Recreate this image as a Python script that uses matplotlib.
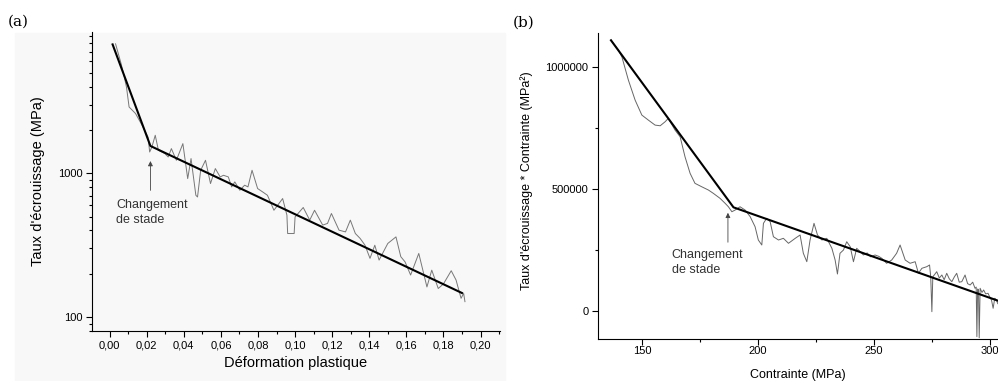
import numpy as np
import matplotlib.pyplot as plt
from matplotlib.patches import Rectangle
from matplotlib.ticker import MultipleLocator, LogLocator, NullFormatter, FuncFormatter

plt.rcParams['font.family'] = ['Liberation Sans', 'DejaVu Sans']

## (a) taux d'ecrouissage vs deformation plastique (log scale)
eps = [0.0032, 0.0062, 0.0079, 0.0091, 0.0105, 0.0140, 0.0175, 0.0207, 0.0216, 0.0228,
       0.0246, 0.0263, 0.0298, 0.0316, 0.0333, 0.0360, 0.0395, 0.0421, 0.0439, 0.0465,
       0.0474, 0.0491, 0.0517, 0.0544, 0.0570, 0.0596, 0.0614, 0.0640, 0.0658, 0.0675,
       0.0702, 0.0728, 0.0746, 0.0768, 0.0798, 0.0825, 0.0851, 0.0886, 0.0933, 0.0956,
       0.0960, 0.0995, 0.1000, 0.1044, 0.1079, 0.1105, 0.1149, 0.1175, 0.1196, 0.1237,
       0.1272, 0.1298, 0.1325, 0.1351, 0.1377, 0.1404, 0.1430, 0.1453, 0.1500, 0.1544,
       0.1570, 0.1593, 0.1623, 0.1667, 0.1711, 0.1737, 0.1772, 0.1800, 0.1842, 0.1868,
       0.1895, 0.1909, 0.1916]
theta = [7940, 5780, 4670, 3970, 2890, 2600, 2155, 1786, 1406, 1524,
         1837, 1445, 1370, 1298, 1484, 1231, 1607, 918, 1265, 703,
         684, 1049, 1231, 848, 1078, 943, 968, 943, 804, 871,
         762, 826, 804, 1049, 783, 742, 703, 553, 667, 511,
         381, 381, 497, 578, 472, 553, 436, 448, 525, 402,
         391, 472, 381, 352, 316, 256, 316, 249, 325, 361,
         263, 242, 196, 277, 162, 212, 158, 170, 210, 181,
         135, 146, 128]
fit_a_x = [0.0016, 0.022, 0.190]
fit_a_y = [7870, 1548, 147]

## (b) taux * contrainte vs contrainte
sig = [136.6, 139.8, 141.3, 144.1, 147.0, 149.9, 152.7, 155.6, 157.8, 159.9,
       161.3, 164.2, 166.4, 168.5, 170.7, 172.8, 175.7, 178.6, 180.7, 183.6,
       185.8, 187.2, 188.7, 190.1, 192.2, 194.4, 196.6, 198.7, 200.1, 201.6,
       202.3, 203.7, 205.2, 206.6, 208.8, 210.9, 213.1, 216.0, 218.1, 219.5,
       221.0, 222.4, 224.1, 225.6, 227.5, 229.6, 231.8, 233.2, 234.2, 235.3,
       236.8, 238.2, 239.7, 241.1, 242.5, 244.0, 245.4, 247.0, 248.5, 250.4,
       252.0, 253.3, 255.4, 257.6, 259.7, 261.2, 263.4, 265.5, 267.7, 269.1,
       270.6, 272.7, 273.9, 274.4, 274.9, 275.3, 277.0, 278.1, 279.2, 280.2,
       281.3, 282.4, 283.5, 284.6, 285.6, 286.7, 287.8, 289.2, 290.3, 291.4,
       292.5, 293.5, 294.0, 294.3, 294.6, 295.0, 295.3, 295.7, 296.5, 297.2,
       298.1, 299.1, 299.8, 300.6, 301.3, 302.0, 302.7, 303.3]
sig_theta = [1110656, 1069672, 1042000, 946700, 864750, 803300, 782800, 762300, 759500, 775800,
             789800, 741800, 714300, 632400, 564300, 523400, 509400, 495900, 482400, 461900,
             441400, 427400, 407000, 413900, 427400, 413900, 386500, 345500, 291000, 270500,
             359400, 379900, 366000, 304500, 291000, 297900, 277500, 297900, 311500, 236500,
             202000, 291000, 359400, 311500, 291000, 297900, 257000, 209000, 151600, 236500,
             250000, 284000, 263500, 202000, 257000, 243000, 229500, 238000, 222000, 229500,
             224000, 216000, 195500, 209000, 236500, 270500, 209000, 195500, 202000, 154500,
             175000, 181600, 188500, 140600, -2900, 140000, 161000, 135000, 147500, 128000,
             154500, 132000, 120100, 140000, 154500, 118000, 120100, 147500, 112000, 106600,
             118000, 93000, 98000, -105300, 90000, 88000, -110000, 93000, 76000, 86000,
             70000, 72500, 58000, 45000, 11000, 52000, 45000, 30000]
fit_b_x = [136.6, 189.4, 303.4]
fit_b_y = [1110000, 425000, 42000]

fig = plt.figure(figsize=(9.98, 3.81), dpi=100)
fig.patches.append(Rectangle((15 / 998, 0), 490 / 998, 348 / 381, transform=fig.transFigure,
                             color='#f8f8f8', zorder=-5))

ax1 = fig.add_axes([92 / 998, 1 - 331 / 381, 408 / 998, 299 / 381])
ax1.set_facecolor('none')
ax1.plot(eps, theta, color='#777777', lw=0.7)
ax1.plot(fit_a_x, fit_a_y, color='black', lw=1.5)
ax1.set_yscale('log')
ax1.set_xlim(-0.0095, 0.2105)
ax1.set_ylim(80, 9600)
ax1.xaxis.set_major_locator(MultipleLocator(0.02))
ax1.xaxis.set_minor_locator(MultipleLocator(0.01))
ax1.xaxis.set_major_formatter(FuncFormatter(lambda v, p: ('%.2f' % v).replace('.', ',')))
ax1.yaxis.set_major_locator(LogLocator(base=10, numticks=10))
ax1.yaxis.set_minor_locator(LogLocator(base=10, subs=np.arange(2, 10), numticks=10))
ax1.yaxis.set_minor_formatter(NullFormatter())
ax1.yaxis.set_major_formatter(FuncFormatter(lambda v, p: '%d' % v))
ax1.spines['top'].set_visible(False)
ax1.spines['right'].set_visible(False)
ax1.tick_params(labelsize=8, length=4, width=0.8, pad=3)
ax1.tick_params(which='minor', length=2.5, width=0.8)
ax1.set_xlabel('Déformation plastique', fontsize=10.5)
ax1.xaxis.set_label_coords(0.5, -0.085)
ax1.set_ylabel("Taux d'écrouissage (MPa)", fontsize=10.5, va='center')
ax1.yaxis.set_label_coords(-0.132, 0.5)
ax1.annotate('', xy=(0.022, 1271), xytext=(0.022, 727),
             arrowprops=dict(arrowstyle='-|>', color='#444444', lw=0.6, mutation_scale=7))
ax1.text(0.0037, 660, 'Changement\nde stade', fontsize=9, color='#333333', va='top', linespacing=1.35)

ax2 = fig.add_axes([598 / 998, 1 - 339 / 381, 400 / 998, 306 / 381])
ax2.plot(sig, sig_theta, color='#666666', lw=0.7)
ax2.plot(fit_b_x, fit_b_y, color='black', lw=1.5)
ax2.set_xlim(131, 303.4)
ax2.set_ylim(-115000, 1140000)
ax2.xaxis.set_major_locator(MultipleLocator(50))
ax2.xaxis.set_minor_locator(MultipleLocator(25))
ax2.yaxis.set_major_locator(MultipleLocator(500000))
ax2.yaxis.set_minor_locator(MultipleLocator(250000))
ax2.yaxis.set_major_formatter(FuncFormatter(lambda v, p: '%d' % v))
ax2.spines['top'].set_visible(False)
ax2.spines['right'].set_visible(False)
ax2.tick_params(labelsize=8, length=4, width=0.8, pad=3)
ax2.tick_params(axis='x', pad=1)
ax2.tick_params(which='minor', length=2.5, width=0.8)
ax2.set_xlabel('Contrainte (MPa)', fontsize=9)
ax2.xaxis.set_label_coords(0.5, -0.098)
ax2.set_ylabel("Taux d'écrouissage * Contrainte (MPa²)", fontsize=9, va='center')
ax2.yaxis.set_label_coords(-0.1775, 0.518)
ax2.annotate('', xy=(187, 414000), xytext=(187, 270500),
             arrowprops=dict(arrowstyle='-|>', color='#444444', lw=0.6, mutation_scale=7))
ax2.text(162.8, 255000, 'Changement\nde stade', fontsize=9, color='#333333', va='top', linespacing=1.35)

fig.text(8 / 998, 1 - 22 / 381, '(a)', family='DejaVu Serif', fontsize=11, va='center')
fig.text(513 / 998, 1 - 23 / 381, '(b)', family='DejaVu Serif', fontsize=11, va='center')

plt.savefig('out.png', dpi=100)
